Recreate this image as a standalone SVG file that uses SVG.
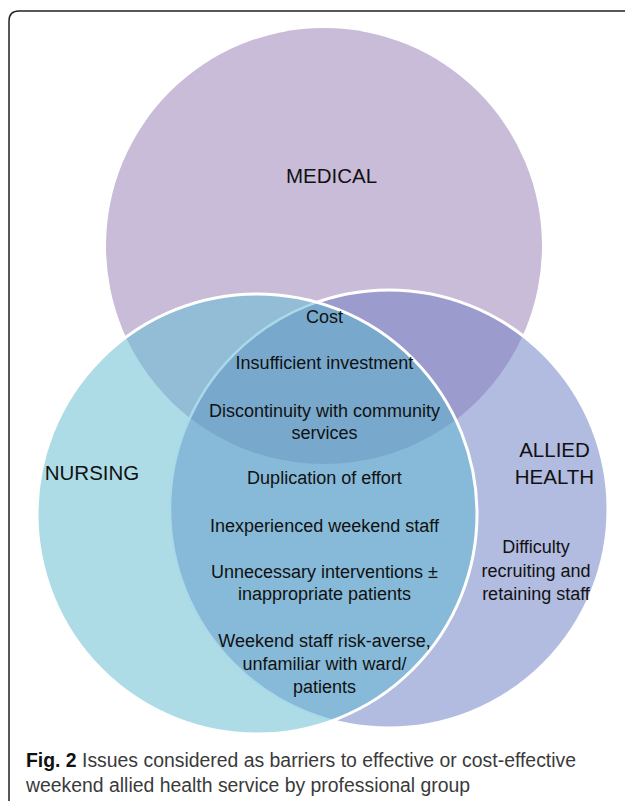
<svg xmlns="http://www.w3.org/2000/svg" width="625" height="801" viewBox="0 0 625 801">
<style>
.t{font-family:"Liberation Sans",Arial,sans-serif;fill:#111;text-anchor:middle}
.lab{font-size:20.5px}
.item{font-size:18px}
.cap{font-family:"Liberation Sans",Arial,sans-serif;font-size:19.4px;fill:#3a3a3a}
</style>
<defs>
<clipPath id="clipM"><circle cx="324" cy="246" r="218"/></clipPath>
<clipPath id="clipN"><circle cx="257" cy="514" r="220"/></clipPath>
<clipPath id="clipA"><circle cx="389" cy="509" r="219"/></clipPath>
</defs>
<rect width="625" height="801" fill="#fff"/>
<path d="M9,801 V21 Q9,11 19,11 H625" fill="none" stroke="#222" stroke-width="1.5"/>

<g id="medical">
<circle cx="324" cy="246" r="218" fill="#C9BCD9"/>
</g>
<g id="allied">
<circle cx="389" cy="509" r="219" fill="#B2BBE0"/>
<circle cx="324" cy="246" r="218" fill="#9C9BCE" clip-path="url(#clipA)"/>
<circle cx="389" cy="509" r="219" fill="none" stroke="#fff" stroke-width="3"/>
</g>
<g id="nursing">
<circle cx="257" cy="514" r="220" fill="#ADDCE7"/>
<circle cx="324" cy="246" r="218" fill="#93BCD6" clip-path="url(#clipN)"/>
<circle cx="389" cy="509" r="219" fill="#86BAD8" clip-path="url(#clipN)"/>
<g clip-path="url(#clipN)"><circle cx="324" cy="246" r="218" fill="#78A9CD" clip-path="url(#clipA)"/></g>
<circle cx="389" cy="509" r="219" fill="none" stroke="#AADAE8" stroke-width="2.5" clip-path="url(#clipN)"/>
<circle cx="257" cy="514" r="220" fill="none" stroke="#fff" stroke-width="3"/>
</g>

<g id="labels">
<text class="t lab" x="331.5" y="183">MEDICAL</text>
<text class="t lab" x="92" y="480">NURSING</text>
<text class="t lab" x="554.5" y="457">ALLIED</text>
<text class="t lab" x="554.5" y="484">HEALTH</text>
</g>
<g id="shared-issues">
<text class="t item" x="324.5" y="323">Cost</text>
<text class="t item" x="324.5" y="369">Insufficient investment</text>
<text class="t item" x="324.5" y="417">Discontinuity with community</text>
<text class="t item" x="324.5" y="439">services</text>
<text class="t item" x="324.5" y="484">Duplication of effort</text>
<text class="t item" x="324.5" y="532">Inexperienced weekend staff</text>
<text class="t item" x="324.5" y="578">Unnecessary interventions ±</text>
<text class="t item" x="324.5" y="600">inappropriate patients</text>
<text class="t item" x="324.5" y="647">Weekend staff risk-averse,</text>
<text class="t item" x="324.5" y="670">unfamiliar with ward/</text>
<text class="t item" x="324.5" y="693">patients</text>
</g>
<g id="allied-issues">
<text class="t item" x="536" y="553">Difficulty</text>
<text class="t item" x="536" y="577">recruiting and</text>
<text class="t item" x="536" y="600">retaining staff</text>
</g>
<g id="caption">
<text class="cap" x="26" y="767"><tspan font-weight="bold" fill="#111">Fig. 2</tspan> Issues considered as barriers to effective or cost-effective</text>
<text class="cap" x="26" y="792">weekend allied health service by professional group</text>
</g>
</svg>
